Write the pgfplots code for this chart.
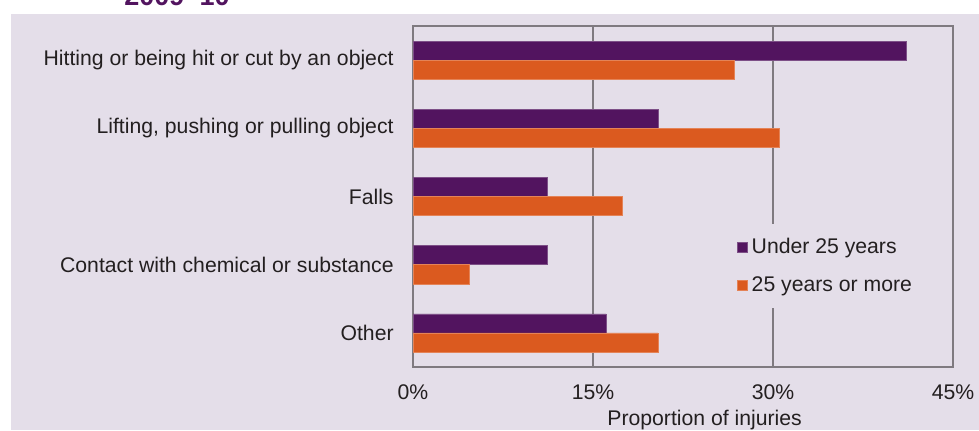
\documentclass[border=0pt]{standalone}
\usepackage{pgfplots}
\pgfplotsset{compat=1.18}
\usepackage{fontspec}
\setmainfont{Liberation Sans}
\definecolor{bg}{HTML}{E4DEE9}
\definecolor{purp}{HTML}{52145F}
\definecolor{orng}{HTML}{DB5A1F}
\definecolor{gridc}{HTML}{7F7A80}
\definecolor{txt}{HTML}{231F20}
\begin{document}
\begin{tikzpicture}[x=0.5pt,y=0.5pt]
\useasboundingbox (0,0) rectangle (979,430);
\clip (0,0) rectangle (979,430);
\fill[bg] (11,0) rectangle (979,416);
\node[anchor=base, text=purp, font=\bfseries\fontsize{13.5}{15}\selectfont, inner sep=0pt] at (177,425) {2009–10};
\begin{axis}[
  at={(206.5pt,31.5pt)}, anchor=south west, scale only axis,
  width=270pt, height=170.5pt,
  xmin=0, xmax=45, ymin=-0.5, ymax=4.5,
  xbar, bar width=0.28,
  font=\fontsize{10.6}{12}\selectfont, text=txt,
  xtick={0,15,30,45}, xticklabels={0\%,15\%,30\%,45\%},
  ytick={0,1,2,3,4},
  yticklabels={{Other},{Contact with chemical or substance},{Falls},{Lifting, pushing or pulling object},{Hitting or being hit or cut by an object}},
  major tick length=0pt,
  xmajorgrids, grid style={gridc, line width=0.65pt},
  axis line style={gridc, line width=0.7pt},
  xticklabel style={anchor=base, yshift=-16pt, text=txt},
  yticklabel style={anchor=east, inner sep=0pt, xshift=-9.5pt, text=txt},
  xlabel={Proportion of injuries},
  every axis x label/.style={at={(axis description cs:0.54,0)}, anchor=base, yshift=-29pt, text=txt},
  legend image code/.code={\fill[#1] (0pt,-2.5pt) rectangle (5pt,2.5pt);},
  legend style={at={(axis description cs:0.581,0.42)}, anchor=north west, fill=bg, draw=none,
    row sep=6pt, inner xsep=5pt, inner ysep=5pt, text=txt,
    font=\fontsize{10.6}{12}\selectfont},
  legend cell align=left,
]
\addplot[fill=purp, draw=purp!75!white, line width=0.3pt, bar shift=0.14]
  coordinates {(16.1,0) (11.2,1) (11.2,2) (20.4,3) (41.1,4)};
\addplot[fill=orng, draw=orng!75!white, line width=0.3pt, bar shift=-0.14]
  coordinates {(20.4,0) (4.7,1) (17.4,2) (30.5,3) (26.8,4)};
\legend{Under 25 years, 25 years or more}
\end{axis}
\end{tikzpicture}
\end{document}
